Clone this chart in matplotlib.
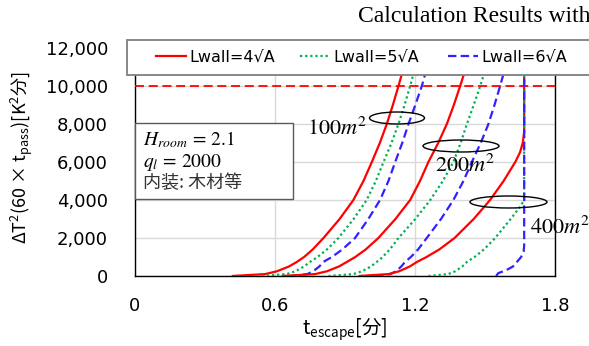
import numpy as np
import matplotlib
matplotlib.use('Agg')
import matplotlib.pyplot as plt
from matplotlib.patches import Rectangle, Ellipse
from matplotlib.lines import Line2D
from matplotlib.legend import Legend

plt.rcParams['font.family'] = ['DejaVu Sans', 'Noto Sans CJK JP']

# ---------------------------------------------------------------
# data
# ---------------------------------------------------------------
# y levels shared by the 100 m2 and 200 m2 curves
Y_LEVELS = [0, 100, 250, 500, 740, 1000, 1400, 2000, 3000, 4000, 5000,
            6000, 7000, 8000, 9000, 10000, 11000, 12000]

t_100_4 = [0.416, 0.559, 0.610, 0.661, 0.695, 0.726, 0.763, 0.809, 0.878, 0.937,
           0.980, 1.016, 1.050, 1.080, 1.106, 1.130, 1.153, 1.175]
t_100_5 = [0.545, 0.651, 0.689, 0.726, 0.751, 0.784, 0.824, 0.873, 0.938, 0.994,
           1.033, 1.066, 1.100, 1.130, 1.156, 1.180, 1.202, 1.222]
t_100_6 = [0.666, 0.739, 0.765, 0.791, 0.808, 0.845, 0.890, 0.944, 1.001, 1.051,
           1.087, 1.116, 1.146, 1.173, 1.202, 1.230, 1.253, 1.275]

t_200_4 = [0.630, 0.773, 0.824, 0.875, 0.909, 0.945, 0.990, 1.044, 1.117, 1.180,
           1.222, 1.258, 1.300, 1.337, 1.367, 1.394, 1.420, 1.445]
t_200_5 = [0.830, 0.936, 0.974, 1.012, 1.037, 1.062, 1.093, 1.130, 1.202, 1.266,
           1.320, 1.365, 1.396, 1.423, 1.452, 1.480, 1.505, 1.530]
t_200_6 = [1.030, 1.096, 1.119, 1.142, 1.158, 1.183, 1.214, 1.251, 1.312, 1.365,
           1.408, 1.444, 1.482, 1.515, 1.541, 1.565, 1.588, 1.610]

# 400 m2 curves hit the time cap, so each has its own levels
t_400_4 = [0.959, 1.087, 1.133, 1.178, 1.209, 1.250, 1.305, 1.370, 1.452, 1.522,
           1.580, 1.630, 1.650, 1.662, 1.668, 1.668]
y_400_4 = [0, 100, 250, 500, 740, 1000, 1400, 2000, 3000, 4000,
           5000, 6000, 6500, 7000, 7600, 12000]
t_400_5 = [1.258, 1.343, 1.373, 1.403, 1.423, 1.456, 1.496, 1.544, 1.610, 1.648,
           1.668, 1.668]
y_400_5 = [0, 100, 250, 500, 740, 1000, 1400, 2000, 3000, 3600,
           4000, 12000]
t_400_6 = [1.548, 1.557, 1.590, 1.620, 1.655, 1.666, 1.668, 1.668]
y_400_6 = [0, 150, 300, 500, 1000, 1300, 1600, 12000]

LIMIT = 10000
X_TICKS = [0, 0.6, 1.2, 1.8]
Y_TICKS = [0, 2000, 4000, 6000, 8000, 10000, 12000]
LEGEND_LABELS = ['Lwall=4√A', 'Lwall=5√A', 'Lwall=6√A']

# ---------------------------------------------------------------
# styles
# ---------------------------------------------------------------
RED, GREEN, BLUE = '#FF0000', '#00B050', '#3322FF'
STYLES = [
    dict(color=RED, lw=1.6, ls='-'),
    dict(color=GREEN, lw=1.6, ls=(0, (1, 1.3))),
    dict(color=BLUE, lw=1.6, ls=(0, (3.8, 1.9))),
]

W, H = 589, 346


def fx(px):
    return px / W


def fy(py):
    return 1 - py / H


fig = plt.figure(figsize=(W / 100, H / 100), dpi=100)
ax = fig.add_axes([fx(134.5), fy(276), fx(555) - fx(134.5), fy(48) - fy(276)])

curves = [
    (t_100_4, Y_LEVELS, 0), (t_100_5, Y_LEVELS, 1), (t_100_6, Y_LEVELS, 2),
    (t_200_4, Y_LEVELS, 0), (t_200_5, Y_LEVELS, 1), (t_200_6, Y_LEVELS, 2),
    (t_400_4, y_400_4, 0), (t_400_5, y_400_5, 1), (t_400_6, y_400_6, 2),
]
for t, y, k in curves:
    ax.plot(t, y, zorder=3, solid_capstyle='butt', solid_joinstyle='round', **STYLES[k])

ax.axhline(LIMIT, color=RED, lw=1.3, ls=(0, (5, 2.6)), zorder=2.8)

ax.set_xlim(0, 1.8)
ax.set_ylim(0, 12000)
ax.set_xticks(X_TICKS)
ax.set_xticklabels(['0', '0.6', '1.2', '1.8'])
ax.set_yticks(Y_TICKS)
ax.set_yticklabels([f'{v:,}' for v in Y_TICKS])
ax.tick_params(axis='y', length=0, pad=19, labelsize=13)
ax.tick_params(axis='x', length=0, pad=15, labelsize=13)
ax.grid(True, color='#D9D9D9', lw=1)
ax.set_axisbelow(True)
for s in ax.spines.values():
    s.set_color('black')
    s.set_linewidth(1.0)

ax.set_ylabel('ΔT$^\\mathregular{2}$(60 × t$_\\mathregular{pass}$)[K$^\\mathregular{2}$分]',
              family='Noto Sans CJK JP', fontsize=13)
ax.yaxis.set_label_coords((35 - 134.5) / 420.5, (276 - 157.5) / 228)
ax.set_xlabel('t$_\\mathregular{escape}$[分]', family='Noto Sans CJK JP', fontsize=14)
ax.xaxis.set_label_coords(0.5, (276 - 316) / 228)

# legend box spanning past the right edge
leg_box = Rectangle((fx(127), fy(75)), fx(600) - fx(127), fy(40) - fy(75),
                    transform=fig.transFigure, facecolor='white',
                    edgecolor='#7F7F7F', lw=1.3, zorder=4, clip_on=False)
ax.add_artist(leg_box)
for k, (lab, x0) in enumerate(zip(LEGEND_LABELS, [156, 300, 448])):
    h = Line2D([], [], **STYLES[k])
    lg = Legend(ax, [h], [lab], loc='center left',
                bbox_to_anchor=(fx(x0), fy(57.5)),
                bbox_transform=fig.transFigure, frameon=False,
                handlelength=1.85, handletextpad=0.25, borderpad=0,
                borderaxespad=0, fontsize=11.5)
    lg.set_zorder(5)
    ax.add_artist(lg)

# parameter box
ax.add_artist(Rectangle((fx(134.5), fy(199)), fx(293) - fx(134.5), fy(123) - fy(199),
                        transform=fig.transFigure, facecolor='white',
                        edgecolor='#595959', lw=1.0, zorder=4, clip_on=False))
fig.text(fx(143), fy(140), r'$H_{room}\,=\,2.1$', math_fontfamily='stix',
         fontsize=14, va='center', ha='left', zorder=6)
fig.text(fx(143), fy(162), r'$q_l\,=\,2000$', math_fontfamily='stix',
         fontsize=14, va='center', ha='left', zorder=6)
fig.text(fx(143), fy(183), '内装: 木材等', family='Noto Sans CJK JP',
         fontsize=13, va='center', ha='left', color='#333333', zorder=6)

# group rings and area labels
for (cx, cy, w) in [(397, 118, 55), (461, 146, 76), (508.5, 202, 77)]:
    ax.add_artist(Ellipse((fx(cx), fy(cy)), fx(w), 12 / H,
                          transform=fig.transFigure, fill=False,
                          edgecolor='black', lw=1.0, zorder=4))
for (lab, x0, y0) in [('100', 307, 128), ('200', 435, 165), ('400', 530, 227)]:
    fig.text(fx(x0), fy(y0), rf'${lab}m^2$', math_fontfamily='stix',
             fontsize=16, va='center', ha='left', zorder=6)

fig.text(fx(358), fy(16), 'Calculation Results with', family='Liberation Serif',
         fontsize=17, va='center', ha='left')

fig.savefig('out.png', dpi=100)
